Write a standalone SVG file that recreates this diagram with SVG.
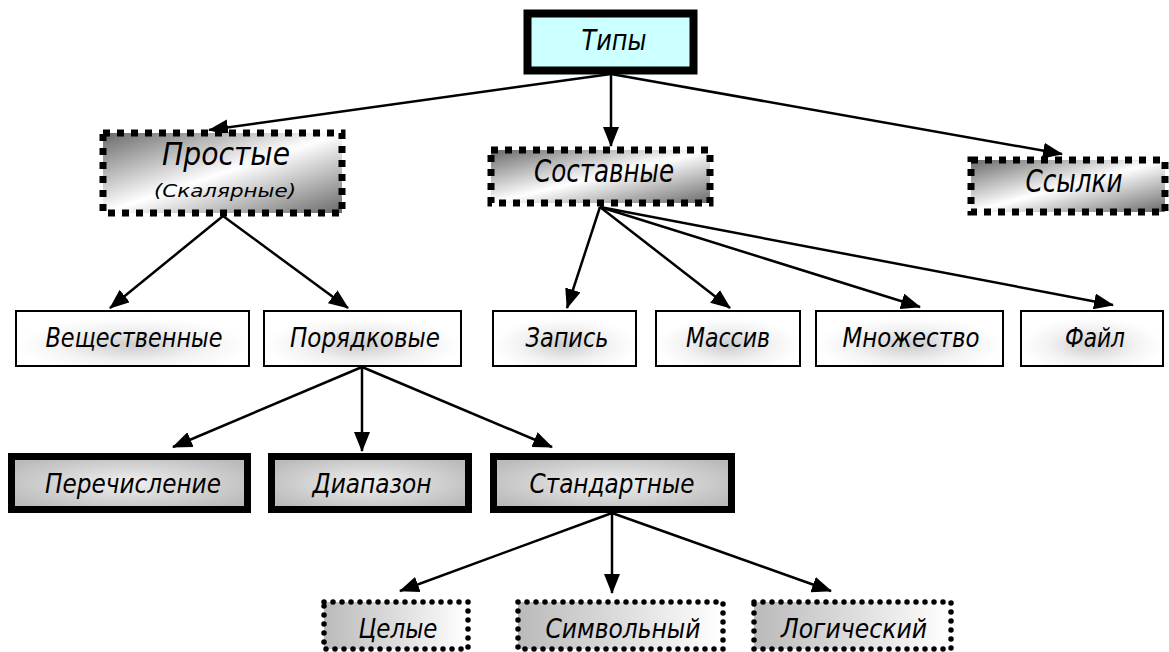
<svg xmlns="http://www.w3.org/2000/svg" width="1169" height="652" viewBox="0 0 1169 652">
<style>
text{font-family:"DejaVu Sans","Liberation Sans",sans-serif;font-style:italic;fill:#000;text-anchor:middle}
.lbl{font-size:27px}
.big{font-size:32px}
.edge{stroke:#000;stroke-width:2.5;fill:none;marker-end:url(#ah)}
.top{stroke:#000;stroke-width:8;fill:#ccffff}
.dash{stroke:#000;stroke-width:7;stroke-dasharray:7 7;fill:url(#gDiag)}
.plain{stroke:#000;stroke-width:2;fill:url(#gSoft)}
.thick{stroke:#000;stroke-width:7;fill:url(#gGray)}
.dot{stroke:#000;stroke-width:5.5;stroke-dasharray:0 9;stroke-linecap:round;fill:url(#gLeft)}
</style>
<defs>
<marker id="ah" markerUnits="userSpaceOnUse" markerWidth="20" markerHeight="16" refX="19" refY="8" orient="auto">
<path d="M0,0 L20,8 L0,16 z" fill="#000"/>
</marker>
<linearGradient id="gDiag" x1="0" y1="0" x2="1" y2="1">
<stop offset="0" stop-color="#6a6a6a"/>
<stop offset="0.5" stop-color="#ffffff"/>
<stop offset="1" stop-color="#6a6a6a"/>
</linearGradient>
<radialGradient id="gSoft" cx="0.5" cy="0.62" r="0.5">
<stop offset="0" stop-color="#cccccc"/>
<stop offset="0.6" stop-color="#f2f2f2"/>
<stop offset="1" stop-color="#ffffff"/>
</radialGradient>
<radialGradient id="gGray" cx="0.5" cy="0.5" r="0.6">
<stop offset="0" stop-color="#f0f0f0"/>
<stop offset="1" stop-color="#bababa"/>
</radialGradient>
<linearGradient id="gLeft" x1="0" y1="0" x2="1" y2="0">
<stop offset="0" stop-color="#bababa"/>
<stop offset="1" stop-color="#ffffff"/>
</linearGradient>
</defs>

<g id="connectors">
<line class="edge" x1="611" y1="74" x2="209" y2="130"/>
<line class="edge" x1="611" y1="74" x2="611" y2="146"/>
<line class="edge" x1="611" y1="74" x2="1062" y2="154"/>
<line class="edge" x1="223" y1="216" x2="110" y2="308"/>
<line class="edge" x1="223" y1="216" x2="348" y2="308"/>
<line class="edge" x1="600" y1="207" x2="567" y2="308"/>
<line class="edge" x1="600" y1="207" x2="730" y2="308"/>
<line class="edge" x1="600" y1="207" x2="920" y2="307"/>
<line class="edge" x1="600" y1="207" x2="1113" y2="305"/>
<line class="edge" x1="362" y1="367" x2="173" y2="447"/>
<line class="edge" x1="362" y1="367" x2="362" y2="451"/>
<line class="edge" x1="362" y1="367" x2="552" y2="447"/>
<line class="edge" x1="612" y1="513" x2="400" y2="591"/>
<line class="edge" x1="612" y1="513" x2="612" y2="593"/>
<line class="edge" x1="612" y1="513" x2="831" y2="591"/>
</g>

<g id="n-types"><rect class="top" x="527.5" y="13.5" width="166" height="57"/><text x="614" y="50" font-size="29" textLength="65" lengthAdjust="spacingAndGlyphs">Типы</text></g>

<g id="n-simple"><rect class="dash" x="103" y="133" width="239" height="80"/><text class="big" x="226" y="165" textLength="128" lengthAdjust="spacingAndGlyphs">Простые</text><text x="225" y="197" font-size="18" textLength="142" lengthAdjust="spacingAndGlyphs">(Скалярные)</text></g>
<g id="n-compound"><rect class="dash" x="491" y="150" width="219" height="53"/><text class="big" x="604" y="182" textLength="140" lengthAdjust="spacingAndGlyphs">Составные</text></g>
<g id="n-refs"><rect class="dash" x="971" y="160" width="194" height="52"/><text class="big" x="1074" y="192" textLength="97" lengthAdjust="spacingAndGlyphs">Ссылки</text></g>

<g id="n-real"><rect class="plain" x="16" y="311" width="233" height="55"/><text class="lbl" x="134" y="347" textLength="177" lengthAdjust="spacingAndGlyphs">Вещественные</text></g>
<g id="n-ordinal"><rect class="plain" x="264" y="311" width="197" height="55"/><text class="lbl" x="365" y="347" textLength="150" lengthAdjust="spacingAndGlyphs">Порядковые</text></g>
<g id="n-record"><rect class="plain" x="493" y="311" width="143" height="55"/><text class="lbl" x="567" y="347" textLength="83" lengthAdjust="spacingAndGlyphs">Запись</text></g>
<g id="n-array"><rect class="plain" x="656" y="311" width="144" height="55"/><text class="lbl" x="728" y="347" textLength="84" lengthAdjust="spacingAndGlyphs">Массив</text></g>
<g id="n-set"><rect class="plain" x="816" y="311" width="187" height="55"/><text class="lbl" x="911" y="347" textLength="137" lengthAdjust="spacingAndGlyphs">Множество</text></g>
<g id="n-file"><rect class="plain" x="1021" y="311" width="142" height="55"/><text class="lbl" x="1095" y="347" textLength="60" lengthAdjust="spacingAndGlyphs">Файл</text></g>

<g id="n-enum"><rect class="thick" x="11.5" y="456.5" width="236" height="53"/><text class="lbl" x="133" y="493" textLength="176" lengthAdjust="spacingAndGlyphs">Перечисление</text></g>
<g id="n-range"><rect class="thick" x="271.5" y="456.5" width="197" height="53"/><text class="lbl" x="372" y="493" textLength="119" lengthAdjust="spacingAndGlyphs">Диапазон</text></g>
<g id="n-standard"><rect class="thick" x="493.5" y="456.5" width="238" height="53"/><text class="lbl" x="612" y="493" textLength="165" lengthAdjust="spacingAndGlyphs">Стандартные</text></g>

<g id="n-int"><rect class="dot" x="324" y="602" width="144" height="47"/><text class="lbl" x="398" y="638" textLength="79" lengthAdjust="spacingAndGlyphs">Целые</text></g>
<g id="n-char"><rect class="dot" x="518" y="602" width="205" height="47"/><text class="lbl" x="623" y="638" textLength="155" lengthAdjust="spacingAndGlyphs">Символьный</text></g>
<g id="n-bool"><rect class="dot" x="754" y="602" width="197" height="47"/><text class="lbl" x="854" y="638" textLength="146" lengthAdjust="spacingAndGlyphs">Логический</text></g>
</svg>
